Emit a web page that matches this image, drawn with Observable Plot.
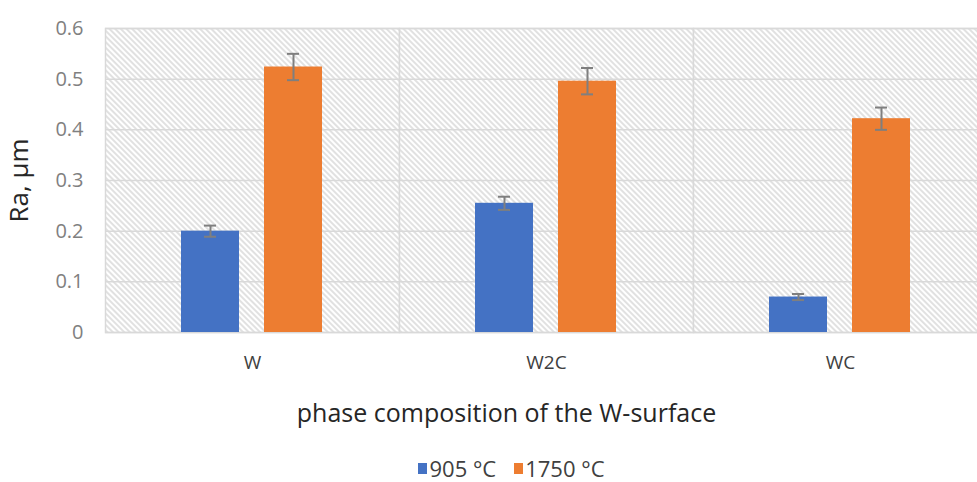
<!DOCTYPE html>
<html>
<head>
<meta charset="utf-8">
<script src="https://cdn.jsdelivr.net/npm/d3@7"></script>
<script src="https://cdn.jsdelivr.net/npm/@observablehq/plot@0.6"></script>
<style>
  html, body { margin: 0; padding: 0; background: #fff; overflow: hidden; }
  body { width: 977px; height: 482px; font-family: "Open Sans", sans-serif; position: relative; }
  #xtitle { position: absolute; left: 18px; top: 396px; width: 977px; text-align: center; font-size: 25px; color: #262626; line-height: 32px; }
  #legend { position: absolute; left: 32px; top: 455px; width: 977px; height: 26px; display: flex; justify-content: center; align-items: center; }
  .lg-swatches { font-size: 22px !important; line-height: 26px !important; color: #404040 !important; font-family: "Open Sans", sans-serif !important; min-height: 26px !important; margin: 0 !important; }
  .lg-swatch { margin-right: 18px !important; }
  .lg-swatch > svg { margin-right: 2px !important; }
</style>
</head>
<body>
<div id="chart"></div>
<div id="xtitle"></div>
<div id="legend"></div>
<script>
const categories = ["W", "W2C", "WC"];
const series = ["905 °C", "1750 °C"];
const values905 = [0.200, 0.255, 0.070];
const values1750 = [0.524, 0.496, 0.422];
const err905 = [0.011, 0.013, 0.006];
const err1750 = [0.026, 0.026, 0.022];
const yTicks = [0, 0.1, 0.2, 0.3, 0.4, 0.5, 0.6];
const colors = ["#4472C4", "#ED7D31"];
const yLabel = "Ra, µm";
const xLabel = "phase composition of the W-surface";

const data = [];
categories.forEach((c, i) => {
  data.push({cat: c, series: series[0], value: values905[i], err: err905[i]});
  data.push({cat: c, series: series[1], value: values1750[i], err: err1750[i]});
});

const plot = Plot.plot({
  width: 977,
  height: 385,
  marginLeft: 105,
  marginRight: -10,
  marginTop: 28,
  marginBottom: 53,
  style: {fontFamily: "Open Sans, sans-serif", background: "transparent", overflow: "hidden"},
  fx: {domain: categories, padding: 0, label: null},
  x: {domain: series, paddingInner: 0.3, paddingOuter: 0.92, axis: null},
  y: {domain: [0, 0.6], ticks: yTicks, label: null},
  color: {domain: series, range: colors},
  marks: [
    Plot.frame({fill: "url(#hatch)", stroke: "#d9d9d9", strokeWidth: 1.5}),
    Plot.gridY(yTicks, {stroke: "#d9d9d9", strokeOpacity: 1, strokeWidth: 1.5}),
    Plot.barY(data, {fx: "cat", x: "series", y: "value", fill: "series"}),
    Plot.ruleX(data, {fx: "cat", x: "series", y1: d => d.value - d.err, y2: d => d.value + d.err, stroke: "#7f7f7f", strokeWidth: 2}),
    Plot.tickY(data, {fx: "cat", x: "series", y: d => d.value - d.err, stroke: "#7f7f7f", strokeWidth: 2, insetLeft: 23, insetRight: 23}),
    Plot.tickY(data, {fx: "cat", x: "series", y: d => d.value + d.err, stroke: "#7f7f7f", strokeWidth: 2, insetLeft: 23, insetRight: 23}),
    Plot.axisY(yTicks, {tickSize: 0, tickPadding: 22, fontSize: 20, color: "#808080", tickFormat: d => d === 0 ? "0" : d.toFixed(1),
      label: yLabel, labelAnchor: "center", labelOffset: 96, labelArrow: "none"}),
    Plot.axisFx({anchor: "bottom", tickSize: 0, tickPadding: 23, fontSize: 19, color: "#404040", label: null})
  ]
});

// hatch pattern definition
const svg = d3.select(plot);
const defs = svg.insert("defs", ":first-child");
defs.append("pattern")
  .attr("id", "hatch")
  .attr("patternUnits", "userSpaceOnUse")
  .attr("width", 4).attr("height", 4)
  .attr("patternTransform", "rotate(-45)")
  .call(p => {
    p.append("rect").attr("width", 4).attr("height", 4).attr("fill", "#ffffff");
    p.append("line").attr("x1", 1).attr("y1", 0).attr("x2", 1).attr("y2", 4)
      .attr("stroke", "#d2d2d2").attr("stroke-width", 1.3);
  });
// style y-axis label
svg.selectAll("[aria-label='y-axis label'] text, [aria-label='y-axis label']")
  .attr("font-size", 26).attr("fill", "#262626");

document.getElementById("chart").appendChild(plot);
document.getElementById("xtitle").textContent = xLabel;

const leg = plot.legend("color", {legend: "swatches", swatchWidth: 9, swatchHeight: 11, className: "lg"});
document.getElementById("legend").appendChild(leg);
</script>
</body>
</html>
